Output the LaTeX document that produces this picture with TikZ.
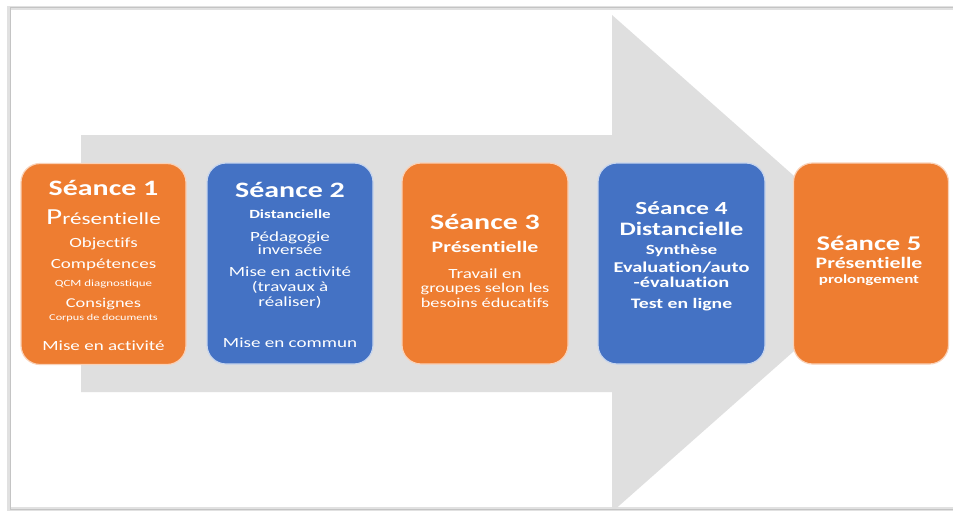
\documentclass[tikz,border=0pt]{standalone}
\usepackage{fontspec}
\setmainfont{Carlito}[FakeStretch=1.36, Ligatures={NoCommon}]
\newcommand\fsz[1]{\fontsize{#1}{#1}\selectfont}
\definecolor{orng}{HTML}{EE7D31}
\definecolor{blu}{HTML}{4472C4}
\definecolor{arrowgray}{HTML}{DFDFDF}
\definecolor{framegray}{HTML}{C4C4C4}
\tikzset{
  seance/.style={rounded corners=19pt, minimum height=201pt, inner sep=0pt, line width=1.2pt},
  orbox/.style={seance, fill=orng, draw=orng!35!white},
  blbox/.style={seance, fill=blu, draw=blu!30!white},
  txt/.style={text=white, anchor=base, inner sep=0pt},
  big/.style={font=\fsz{22}\bfseries},
}
\begin{document}
\begin{tikzpicture}[x=1pt,y=-1pt]
\useasboundingbox (0,0) rectangle (953,514);
\fill[white] (0,0) rectangle (953,514);
% frame
\draw[framegray!50, line width=3.5pt] (960,8) -- (9,8) -- (9,509) -- (960,509);
\draw[framegray, line width=1pt] (960,7) -- (10,7) -- (10,509) -- (960,509);
% big arrow
\begin{scope}
\clip (11,8.5) rectangle (953,508);
\fill[arrowgray] (81,135) -- (612,135) -- (612,15) -- (893,263.5) -- (612,512) -- (612,392) -- (81,392) -- cycle;
\end{scope}
% boxes
\node[orbox, minimum width=165pt] (b1) at (103.5,264) {};
\node[blbox, minimum width=166pt] (b2) at (290,263.5) {};
\node[orbox, minimum width=166pt] (b3) at (485,263.5) {};
\node[blbox, minimum width=167pt] (b4) at (681.5,263.5) {};
\node[orbox, minimum width=155pt] (b5) at (871,263.5) {};
% box 1
\node[txt, big] (t1a) at (103.5,195) {Séance 1};
\node[txt, font=\fsz{17}] (t1b) at (103.5,224) {{\fsz{23}P}résentielle};
\node[txt, font=\fsz{14}] (t1c) at (103.5,247) {Objectifs};
\node[txt, font=\fsz{14}] (t1d) at (103.5,268) {Compétences};
\node[txt, font=\fsz{9.5}] (t1e) at (103.5,286) {QCM diagnostique};
\node[txt, font=\fsz{13.5}] (t1f) at (103.5,307) {Consignes};
\node[txt, font=\fsz{9}] (t1g) at (103.5,320) {Corpus de documents};
\node[txt, font=\fsz{14}] (t1h) at (103.5,350) {Mise en activité};
% box 2
\node[txt, big] (t2a) at (290,197) {Séance 2};
\node[txt, font=\fsz{12.5}\bfseries] (t2b) at (290,218) {Distancielle};
\node[txt, font=\fsz{14}] (t2c) at (290,241.5) {Pédagogie};
\node[txt, font=\fsz{14}] (t2d) at (290,254.5) {inversée};
\node[txt, font=\fsz{14}] (t2e) at (290,276.5) {Mise en activité};
\node[txt, font=\fsz{14}] (t2f) at (290,291.5) {(travaux à};
\node[txt, font=\fsz{14}] (t2g) at (290,306.5) {réaliser)};
\node[txt, font=\fsz{14}] (t2h) at (290,347.5) {Mise en commun};
% box 3
\node[txt, big] (t3a) at (485,229) {Séance 3};
\node[txt, font=\fsz{16}\bfseries] (t3b) at (485,252) {Présentielle};
\node[txt, font=\fsz{14}] (t3c) at (485,278.5) {Travail en};
\node[txt, font=\fsz{13.5}] (t3d) at (485,292.5) {groupes selon les};
\node[txt, font=\fsz{13.5}] (t3e) at (485,307.5) {besoins éducatifs};
% box 4
\node[txt, font=\fsz{18.5}\bfseries] (t4a) at (681.5,214) {Séance 4};
\node[txt, font=\fsz{19}\bfseries] (t4b) at (681.5,235) {Distancielle};
\node[txt, font=\fsz{14}\bfseries] (t4c) at (681.5,254.5) {Synthèse};
\node[txt, font=\fsz{15}\bfseries] (t4d) at (681.5,272.5) {Evaluation/auto};
\node[txt, font=\fsz{15}\bfseries] (t4e) at (681.5,287.5) {-évaluation};
\node[txt, font=\fsz{14.5}\bfseries] (t4f) at (681.5,308.5) {Test en ligne};
% box 5
\node[txt, font=\fsz{21}\bfseries] (t5a) at (869,250) {Séance 5};
\node[txt, font=\fsz{16}\bfseries] (t5b) at (869,268) {Présentielle};
\node[txt, font=\fsz{12.5}\bfseries] (t5c) at (869,283) {prolongement};
\end{tikzpicture}
\end{document}
